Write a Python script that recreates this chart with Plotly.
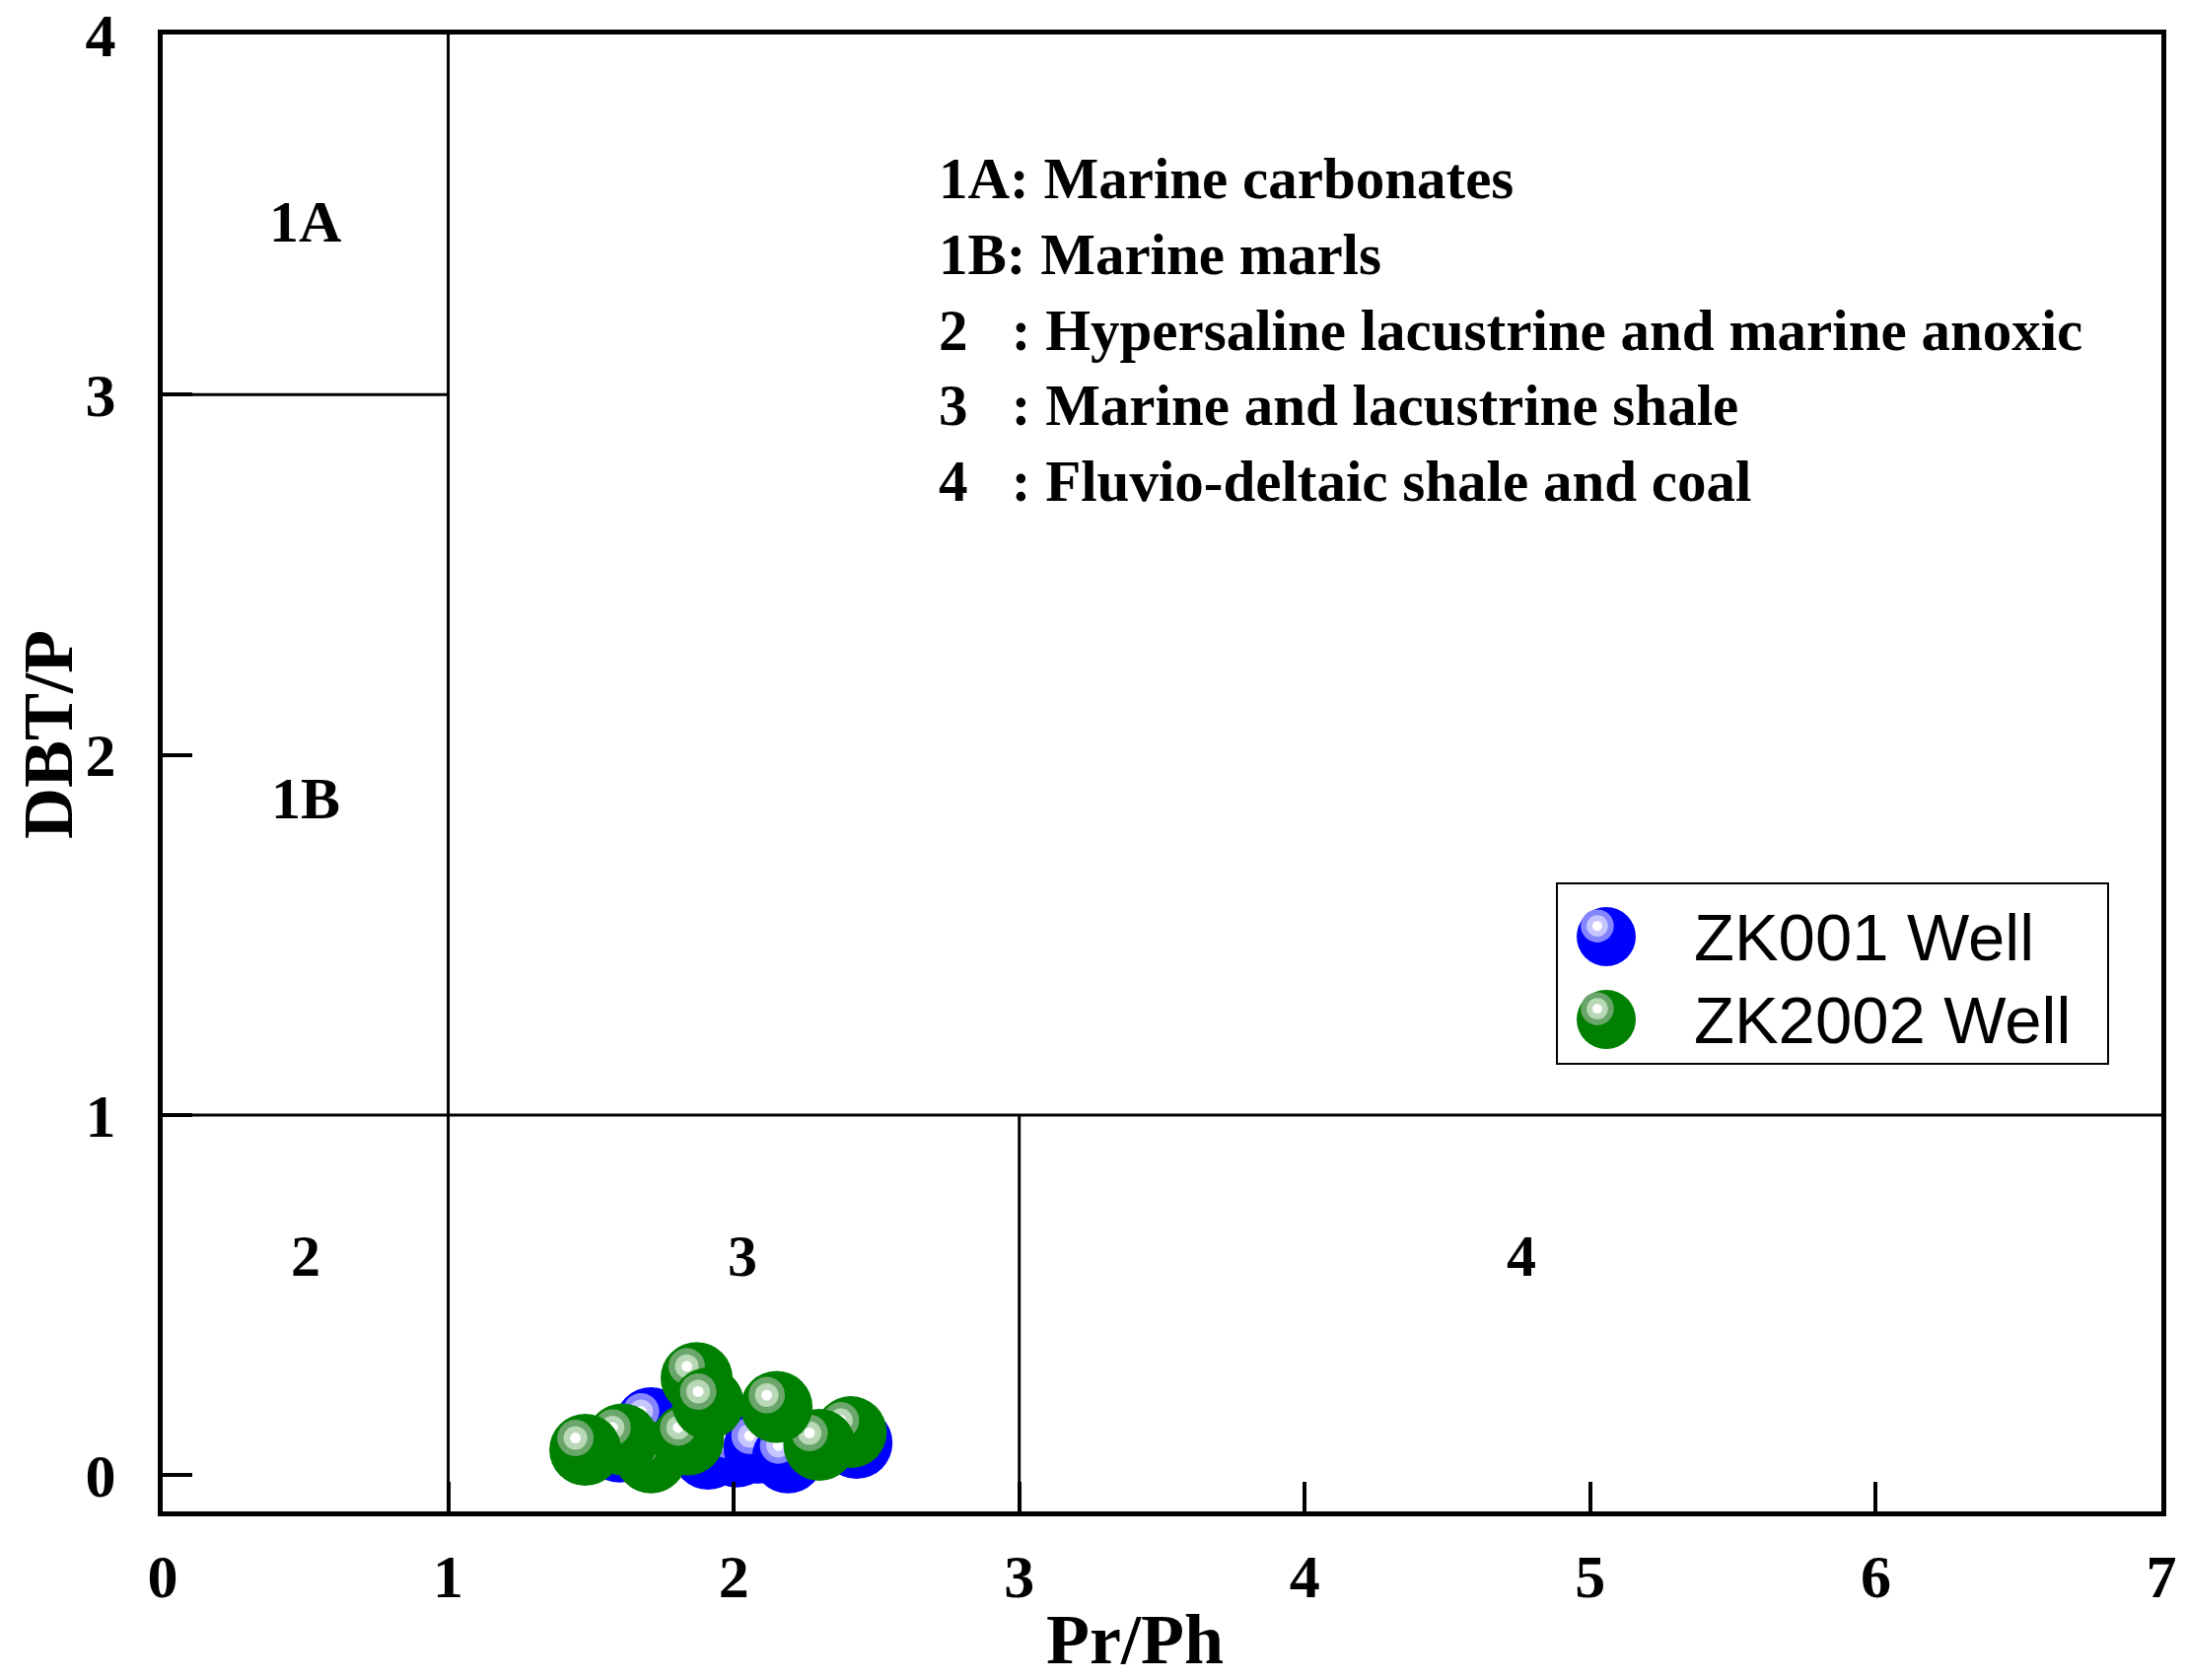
import plotly.graph_objects as go

# Pr/Ph vs DBT/P cross plot (source-rock environment zones)

# data
zk001_prph = [1.60, 1.71, 1.91, 2.01, 2.09, 2.19, 2.43]
zk001_dbtp = [0.08, 0.145, 0.06, 0.066, 0.077, 0.05, 0.09]
zk2002_prph = [1.71, 1.61, 1.48, 1.84, 2.41, 2.30, 1.87, 1.91, 2.15]
zk2002_dbtp = [0.05, 0.10, 0.071, 0.10, 0.12, 0.085, 0.27, 0.20, 0.19]

series_names = ["ZK001 Well", "ZK2002 Well"]
x_ticks = [0, 1, 2, 3, 4, 5, 6, 7]
y_ticks = [0, 1, 2, 3, 4]

# zone boundaries
vert_lines = [(1, -0.1, 4), (3, -0.1, 1)]      # x, y0, y1
horiz_lines = [(3, 0, 1), (1, 0, 7)]            # y, x0, x1

zone_labels = ["1A", "1B", "2", "3", "4"]
zone_x = [0.5, 0.5, 0.5, 2.03, 4.76]
zone_y = [3.48, 1.88, 0.61, 0.61, 0.61]

key_lines = [
    "1A: Marine carbonates",
    "1B: Marine marls",
    "2\u00a0\u00a0\u00a0: Hypersaline lacustrine and marine anoxic",
    "3\u00a0\u00a0\u00a0: Marine and lacustrine shale",
    "4\u00a0\u00a0\u00a0: Fluvio-deltaic shale and coal",
]
key_y = [3.60, 3.39, 3.18, 2.97, 2.76]

# page geometry (the html body adds an 8px margin, so shift everything back)
OFF = 8
W, H = 2217 - OFF, 1704 - OFF
ML, MT = 165 - OFF, 35 - OFF
PW, PH = 2027, 1498
MR, MB = W - ML - PW, H - MT - PH
XR = [0, 7]
YR = [-0.1, 4]

SERIF = "Liberation Serif"
SANS = "Liberation Sans"

BALL = 73
styles = {
    "ZK001 Well": ("#0000ff", "#8585ff", "#c6c6ff"),
    "ZK2002 Well": ("#008000", "#6aa66a", "#b8d8b8"),
}
# highlight offset in pixels (left, up)
HL_DX, HL_DY = -10, 12
dx = HL_DX * (XR[1] - XR[0]) / PW
dy = HL_DY * (YR[1] - YR[0]) / PH

fig = go.Figure()


def add_ball(x, y, name):
    base, ring1, ring2 = styles[name]
    fig.add_trace(go.Scatter(x=[x], y=[y], mode="markers", showlegend=False,
                             marker=dict(size=BALL, color=base, line=dict(width=0))))
    for sz, col in [(37, ring1), (24, ring2), (11, "white")]:
        fig.add_trace(go.Scatter(x=[x + dx], y=[y + dy], mode="markers", showlegend=False,
                                 hoverinfo="skip",
                                 marker=dict(size=sz, color=col, line=dict(width=0))))


for x, y in zip(zk001_prph, zk001_dbtp):
    add_ball(x, y, series_names[0])
for x, y in zip(zk2002_prph, zk2002_dbtp):
    add_ball(x, y, series_names[1])

shapes = []
for x, y0, y1 in vert_lines:
    shapes.append(dict(type="line", xref="x", yref="y", x0=x, x1=x, y0=y0, y1=y1,
                       line=dict(color="black", width=3)))
for y, x0, x1 in horiz_lines:
    shapes.append(dict(type="line", xref="x", yref="y", x0=x0, x1=x1, y0=y, y1=y,
                       line=dict(color="black", width=3)))


# page pixel -> paper fraction
def px(p):
    return (p - OFF - ML) / PW


def py(p):
    return (MT + PH - (p - OFF)) / PH


# legend box drawn by hand so the sphere markers can be large
shapes.append(dict(type="rect", xref="paper", yref="paper",
                   x0=px(1579), x1=px(2138), y0=py(1079), y1=py(896),
                   line=dict(color="black", width=2), fillcolor="white", layer="above"))

annotations = []
leg_rows = [950, 1034]
lr = 30
k = lr * 2 / BALL * 1.1
for name, row in zip(series_names, leg_rows):
    base, ring1, ring2 = styles[name]
    cx, cy = px(1629), py(row)
    shapes.append(dict(type="circle", xref="paper", yref="paper",
                       xsizemode="pixel", ysizemode="pixel", xanchor=cx, yanchor=cy,
                       x0=-lr, x1=lr, y0=-lr, y1=lr, layer="above",
                       fillcolor=base, line=dict(width=0)))
    for sz, col in [(37, ring1), (24, ring2), (11, "white")]:
        r = sz * k / 2
        ox, oy = HL_DX * k, HL_DY * k
        shapes.append(dict(type="circle", xref="paper", yref="paper",
                           xsizemode="pixel", ysizemode="pixel", xanchor=cx, yanchor=cy,
                           x0=ox - r, x1=ox + r, y0=oy - r, y1=oy + r, layer="above",
                           fillcolor=col, line=dict(width=0)))
    annotations.append(dict(x=px(1716), y=cy, xref="paper", yref="paper", text=name,
                            showarrow=False, xanchor="left", yanchor="middle",
                            font=dict(family=SANS, size=67, color="black")))

for t, x, y in zip(zone_labels, zone_x, zone_y):
    annotations.append(dict(x=x, y=y, xref="x", yref="y", text="<b>%s</b>" % t,
                            showarrow=False, font=dict(family=SERIF, size=60, color="black")))

for t, y in zip(key_lines, key_y):
    annotations.append(dict(x=2.71, y=y, xref="x", yref="y", text="<b>%s</b>" % t,
                            showarrow=False, xanchor="left", yanchor="middle",
                            font=dict(family=SERIF, size=59, color="black")))

# axis titles
annotations.append(dict(x=px(1151), y=py(1663), xref="paper", yref="paper",
                        text="<b>Pr/Ph</b>", showarrow=False,
                        xanchor="center", yanchor="middle",
                        font=dict(family=SERIF, size=72, color="black")))
annotations.append(dict(x=px(49), y=py(745), xref="paper", yref="paper",
                        text="<b>DBT/P</b>", showarrow=False, textangle=-90,
                        xanchor="center", yanchor="middle",
                        font=dict(family=SERIF, size=72, color="black")))

axis_common = dict(ticks="inside", ticklen=30, tickwidth=4, tickcolor="black",
                   showline=True, linewidth=5, linecolor="black", mirror=True,
                   showgrid=False, zeroline=False, automargin=False,
                   ticklabeloverflow="allow",
                   tickfont=dict(family=SERIF, size=62, color="black", weight="bold"))

fig.update_layout(
    width=W, height=H,
    margin=dict(l=ML, r=MR, t=MT, b=MB, autoexpand=False),
    plot_bgcolor="white", paper_bgcolor="white",
    showlegend=False,
    shapes=shapes,
    annotations=annotations,
    xaxis=dict(range=XR, tickvals=x_ticks, ticklabelstandoff=8, **axis_common),
    yaxis=dict(range=YR, tickvals=y_ticks, ticklabelstandoff=30, **axis_common),
)

fig.write_html("out.html")
